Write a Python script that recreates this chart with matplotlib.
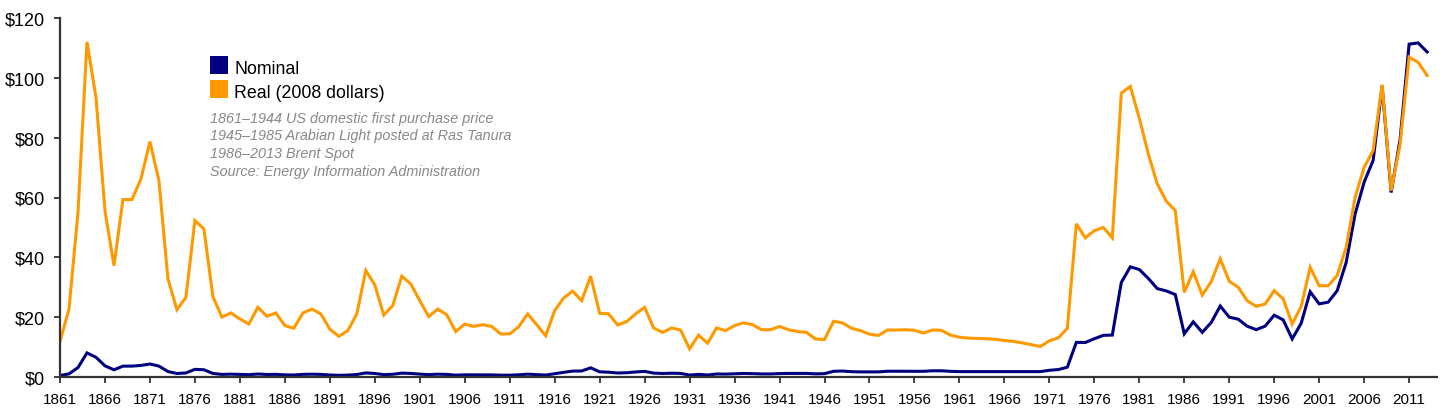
import numpy as np
import matplotlib
matplotlib.use('Agg')
import matplotlib.pyplot as plt
from matplotlib.patches import Rectangle

plt.rcParams['font.family'] = ['Liberation Sans', 'DejaVu Sans']

years = np.arange(1861, 2014)

# nominal price, $ per barrel
nominal = [0.49, 1.05, 3.15, 8.06, 6.59, 3.74, 2.41, 3.63, 3.64, 3.86,
           4.34, 3.64, 1.83, 1.17, 1.35, 2.56, 2.42, 1.19, 0.86, 0.95,
           0.86, 0.78, 1.00, 0.84, 0.88, 0.71, 0.67, 0.88, 0.94, 0.87,
           0.67, 0.56, 0.64, 0.84, 1.36, 1.18, 0.79, 0.91, 1.29, 1.19,
           0.96, 0.80, 0.94, 0.86, 0.62, 0.73, 0.72, 0.72, 0.70, 0.61,
           0.61, 0.74, 0.95, 0.81, 0.64, 1.10, 1.56, 1.98, 2.01, 3.07,
           1.73, 1.61, 1.34, 1.43, 1.68, 1.88, 1.30, 1.17, 1.27, 1.19,
           0.65, 0.87, 0.67, 1.00, 0.97, 1.09, 1.18, 1.13, 1.02, 1.02,
           1.14, 1.19, 1.20, 1.21, 1.05, 1.12, 1.90, 1.99, 1.78, 1.71,
           1.71, 1.71, 1.93, 1.93, 1.93, 1.93, 1.90, 2.08, 2.08, 1.90,
           1.80, 1.80, 1.80, 1.80, 1.80, 1.80, 1.80, 1.80, 1.80, 1.80,
           2.24, 2.48, 3.29, 11.58, 11.53, 12.80, 13.92, 14.02, 31.61, 36.83,
           35.93, 32.97, 29.55, 28.78, 27.56, 14.43, 18.44, 14.92, 18.23, 23.73,
           20.00, 19.32, 16.97, 15.82, 17.02, 20.67, 19.09, 12.72, 17.97, 28.50,
           24.44, 25.02, 28.83, 38.27, 54.52, 65.14, 72.39, 97.26, 61.67, 79.50,
           111.26, 111.67, 108.66]

# real price, 2008 dollars
real = [11.9, 22.7, 55.0, 112.0, 93.5, 55.6, 37.2, 59.3, 59.3, 66.2,
        78.7, 65.7, 32.8, 22.5, 26.6, 52.3, 49.5, 26.9, 20.0, 21.4,
        19.4, 17.7, 23.3, 20.3, 21.4, 17.2, 16.3, 21.4, 22.7, 21.1,
        16.0, 13.6, 15.5, 21.1, 35.6, 30.8, 20.7, 23.9, 33.7, 31.1,
        25.5, 20.2, 22.7, 20.8, 15.2, 17.7, 16.9, 17.5, 16.9, 14.4,
        14.4, 16.8, 21.1, 17.5, 13.8, 22.2, 26.4, 28.7, 25.5, 33.7,
        21.3, 21.1, 17.4, 18.5, 21.1, 23.3, 16.4, 14.9, 16.4, 15.7,
        9.4, 14.0, 11.3, 16.4, 15.5, 17.2, 18.1, 17.5, 15.8, 15.8,
        16.9, 15.8, 15.2, 14.9, 12.7, 12.5, 18.6, 18.1, 16.3, 15.5,
        14.3, 13.9, 15.7, 15.7, 15.8, 15.6, 14.7, 15.7, 15.6, 14.0,
        13.3, 13.0, 12.9, 12.8, 12.6, 12.2, 11.9, 11.4, 10.8, 10.2,
        12.1, 13.1, 16.3, 51.2, 46.5, 48.9, 50.0, 46.5, 94.9, 97.1,
        86.5, 74.6, 64.5, 58.8, 55.6, 28.3, 35.2, 27.4, 31.9, 39.5,
        32.0, 30.0, 25.5, 23.6, 24.4, 28.9, 26.1, 17.7, 23.6, 36.7,
        30.5, 30.5, 33.9, 43.4, 60.1, 70.1, 75.7, 97.7, 62.3, 77.9,
        106.9, 105.2, 100.8]

yticks = [0, 20, 40, 60, 80, 100, 120]
ytick_labels = ['$0', '$20', '$40', '$60', '$80', '$100', '$120']
xticks = np.arange(1861, 2012, 5)

notes = ['1861\u20131944 US domestic first purchase price',
         '1945\u20131985 Arabian Light posted at Ras Tanura',
         '1986\u20132013 Brent Spot',
         'Source: Energy Information Administration']

navy = '#000080'
orange = '#ff9900'

fig = plt.figure(figsize=(14.5, 4.14), dpi=100)
ax = fig.add_axes([60/1450, 36/414, 1377/1450, 359/414])

ax.plot(years, nominal, color=navy, lw=2.2, solid_joinstyle='miter')
ax.plot(years, real, color=orange, lw=2.2, solid_joinstyle='miter')

ax.set_xlim(1861, 2014.1)
ax.set_ylim(0, 120)
ax.set_xticks(xticks)
ax.set_xticklabels([str(x) for x in xticks], fontsize=11)
ax.set_yticks(yticks)
ax.set_yticklabels(ytick_labels, fontsize=13)

for s in ['top', 'right']:
    ax.spines[s].set_visible(False)
for s in ['left', 'bottom']:
    ax.spines[s].set_color('#333333')
    ax.spines[s].set_linewidth(1.6)
ax.tick_params(axis='both', direction='out', length=4, width=1.3, color='#333333')
ax.tick_params(axis='x', pad=7)
ax.tick_params(axis='y', pad=6.5)

# legend drawn by hand (squares + text)
W, H = 1450., 414.
fig.patches.append(Rectangle((210/W, 1 - 75/H), 18/W, 18/H, transform=fig.transFigure,
                             facecolor=navy, edgecolor='none'))
fig.patches.append(Rectangle((210/W, 1 - 99/H), 18/W, 18/H, transform=fig.transFigure,
                             facecolor=orange, edgecolor='none'))
fig.text(234/W, 1 - 74/H, 'Nominal', fontsize=12.8, va='baseline')
fig.text(234/W, 1 - 98/H, 'Real (2008 dollars)', fontsize=12.8, va='baseline')
for i, line in enumerate(notes):
    fig.text(210/W, 1 - (122.5 + i*17.8)/H, line, fontsize=10.4, style='italic',
             color='#888888', va='baseline')

fig.savefig('out.png', dpi=100)
